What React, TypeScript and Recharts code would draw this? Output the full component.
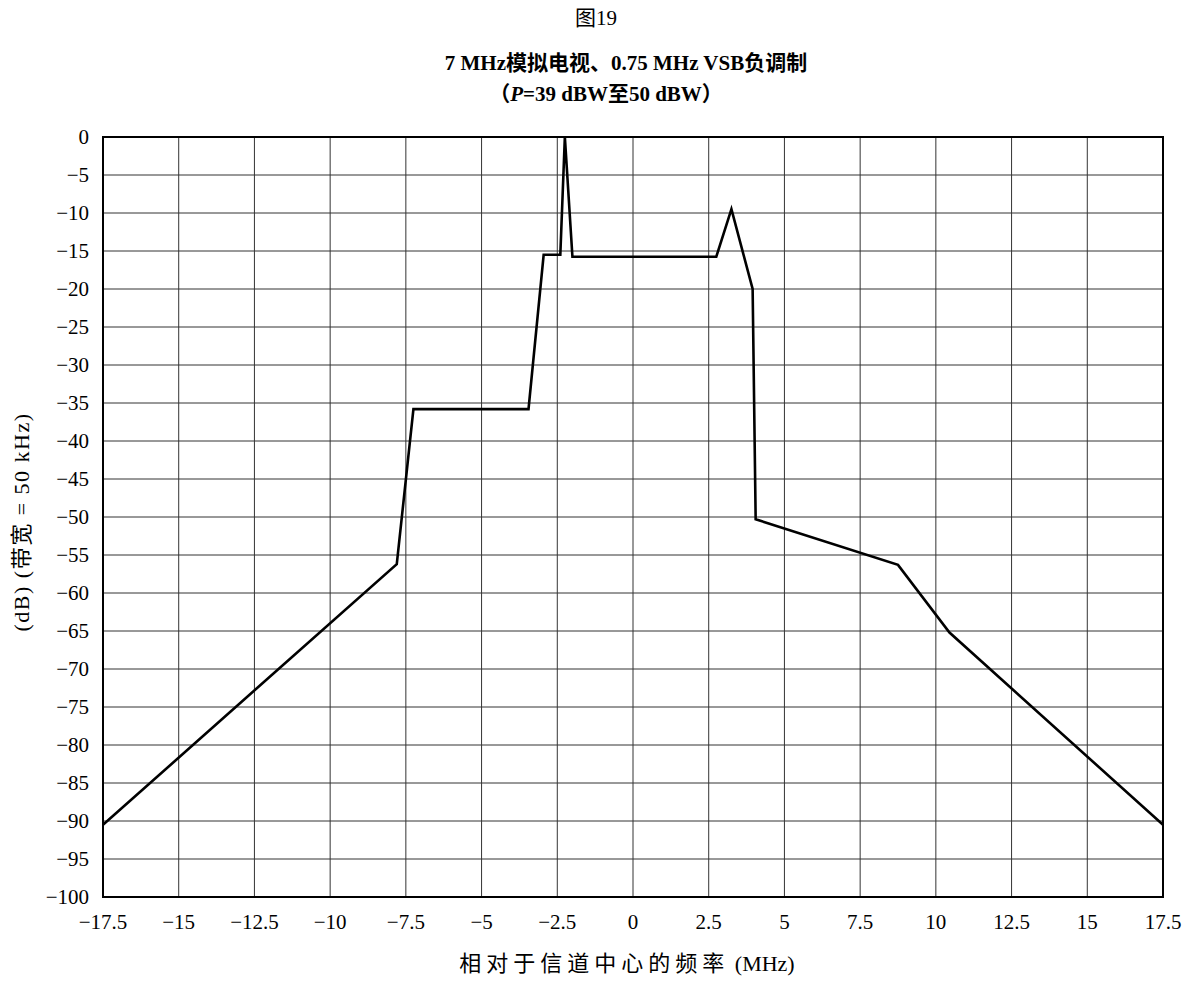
import React from "react";
import {
  LineChart,
  Line,
  XAxis,
  YAxis,
  CartesianGrid,
  ReferenceArea,
} from "recharts";

// Mask breakpoints: frequency relative to channel centre (MHz) and level (dB)
const freqs = [-17.5, -7.8, -7.25, -3.45, -2.95, -2.4, -2.25, -2.0, 2.75, 3.25, 3.95, 4.05, 8.75, 10.45, 17.5];
const levels = [-90.5, -56.2, -35.8, -35.8, -15.5, -15.5, 0, -15.75, -15.75, -9.5, -20, -50.3, -56.3, -65.2, -90.5];

const xTicks = [-17.5, -15, -12.5, -10, -7.5, -5, -2.5, 0, 2.5, 5, 7.5, 10, 12.5, 15, 17.5];
const yTicks = [0, -5, -10, -15, -20, -25, -30, -35, -40, -45, -50, -55, -60, -65, -70, -75, -80, -85, -90, -95, -100];

const figLabel = "图19";
const titleLine1 = "7 MHz模拟电视、0.75 MHz VSB负调制";
const xLabelCjk = "相对于信道中心的频率";
const xLabelUnit = " (MHz)";
const yLabel = "(dB) (带宽 = 50 kHz)";

const data = freqs.map((f, i) => ({ f, v: levels[i] }));

const FONT = "'Liberation Serif', 'Noto Sans CJK SC', serif";
const fmt = (v: number) => (v < 0 ? "\u2212" + String(-v) : String(v));

export default function App() {
  return (
    <div style={{ position: "relative", width: 1180, height: 975 }}>
      <div style={{ position: "absolute", left: -8, top: -8 }}>
        <LineChart
          width={1196}
          height={983}
          data={data}
          margin={{ top: 137, right: 33, bottom: 56, left: 43 }}
        >
          <CartesianGrid stroke="#333" strokeWidth={1} />
          <XAxis
            dataKey="f"
            type="number"
            domain={[-17.5, 17.5]}
            ticks={xTicks}
            tickFormatter={fmt}
            interval={0}
            height={30}
            tickSize={0}
            tickMargin={17}
            axisLine={false}
            tick={{ fill: "#000", fontSize: 21, fontFamily: FONT }}
            allowDataOverflow
          />
          <YAxis
            type="number"
            domain={[-100, 0]}
            ticks={yTicks}
            tickFormatter={fmt}
            interval={0}
            width={60}
            tickSize={0}
            tickMargin={14}
            axisLine={false}
            tick={{ fill: "#000", fontSize: 21, fontFamily: FONT }}
            allowDataOverflow
          />
          <ReferenceArea
            x1={-17.5}
            x2={17.5}
            y1={-100}
            y2={0}
            fill="none"
            fillOpacity={0}
            stroke="#000"
            strokeWidth={2}
            ifOverflow="visible"
          />
          <Line
            type="linear"
            dataKey="v"
            stroke="#000"
            strokeWidth={2.6}
            dot={false}
            isAnimationActive={false}
          />
        </LineChart>
      </div>
      <svg
        width={1196}
        height={983}
        style={{ position: "absolute", left: -8, top: -8, pointerEvents: "none" }}
      >
        <text x={596} y={25} textAnchor="middle" fontSize={21} fontFamily={FONT} fill="#000">
          {figLabel}
        </text>
        <text x={626} y={70} textAnchor="middle" fontSize={21} fontWeight="bold" fontFamily={FONT} fill="#000">
          {titleLine1}
        </text>
        <text x={606} y={101} textAnchor="middle" fontSize={21} fontWeight="bold" fontFamily={FONT} fill="#000">
          {"（"}
          <tspan fontStyle="italic">P</tspan>
          {"=39 dBW至50 dBW）"}
        </text>
        <text
          x={0}
          y={0}
          transform="translate(29,522) rotate(-90)"
          textAnchor="middle"
          fontSize={22}
          letterSpacing={1.5}
          fontFamily={FONT}
          fill="#000"
        >
          {yLabel}
        </text>
        <text x={627} y={971} textAnchor="middle" fontSize={22} fontFamily={FONT} fill="#000">
          <tspan letterSpacing={5}>{xLabelCjk}</tspan>
          <tspan>{xLabelUnit}</tspan>
        </text>
      </svg>
    </div>
  );
}
